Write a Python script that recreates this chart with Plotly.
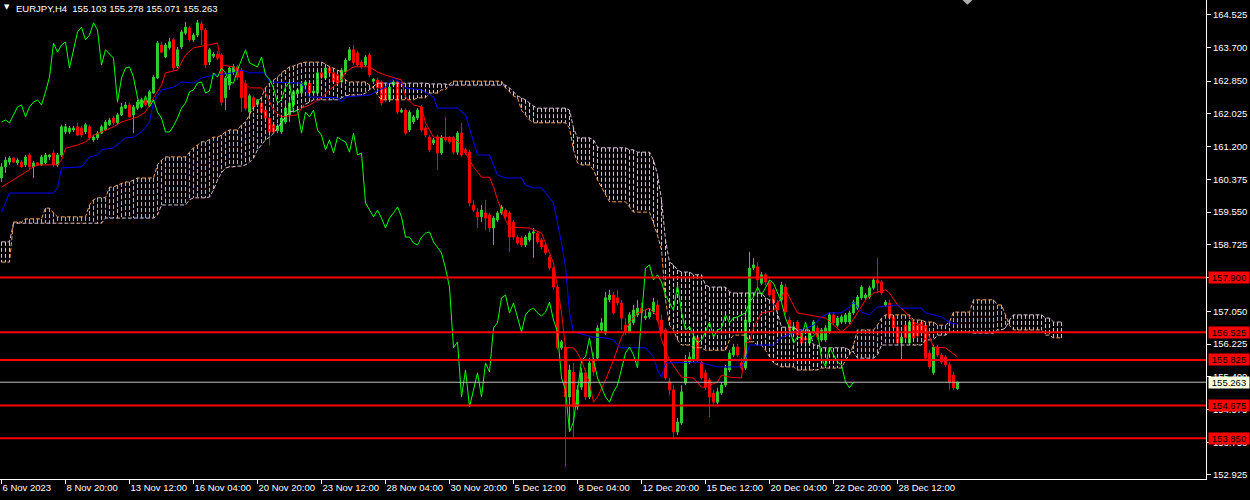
import plotly.graph_objects as go
from datetime import datetime, timedelta

# ---------------- data ----------------
symbol_title = "EURJPY,H4"
first_bar = "2023-11-06 04:00"
holidays = ["2023-12-25", "2024-01-01"]
shift = 26

opens = [160.41,160.69,160.81,160.91,160.79,160.81,160.74,160.99,160.69,160.79,
160.74,160.79,160.94,161.04,160.74,160.99,161.57,161.57,161.62,161.70,
161.67,161.57,161.70,161.37,161.42,161.54,161.62,161.75,161.92,161.80,
162.00,162.17,162.25,162.00,162.17,162.20,162.38,162.30,162.55,162.93,
163.76,163.46,163.69,163.89,163.23,163.71,164.06,164.19,163.89,164.01,
164.29,164.14,163.33,163.48,163.53,163.51,162.43,162.75,163.06,163.21,
163.13,162.78,162.07,162.43,162.27,162.30,162.12,161.92,161.75,161.60,
161.57,161.82,162.00,162.25,162.53,162.55,162.75,162.80,162.55,162.55,
163.06,162.93,163.18,163.06,163.01,162.83,163.08,163.38,163.64,163.56,
163.33,163.26,163.51,162.85,162.88,162.83,162.68,162.38,162.75,162.83,
162.07,162.12,161.62,161.82,161.92,162.20,161.67,161.44,161.29,161.44,
161.04,161.42,161.42,161.42,161.06,161.54,161.12,161.06,159.73,159.55,
159.43,159.53,159.48,159.15,159.35,159.53,159.60,159.53,159.30,158.92,
158.90,158.72,158.85,159.02,159.02,158.85,158.72,158.42,158.14,157.66,
156.13,156.15,154.89,155.52,154.64,155.14,155.50,154.89,155.82,155.87,
156.58,156.50,157.34,157.46,157.39,157.26,156.70,156.53,156.76,156.96,
157.13,156.88,156.91,157.03,157.21,156.83,156.58,155.27,155.07,154.01,
154.24,155.24,155.77,155.82,156.38,155.77,155.50,155.32,154.99,154.76,
154.99,155.19,155.57,155.95,156.15,155.75,155.62,156.78,158.14,158.17,
157.76,157.97,157.79,157.59,157.26,157.34,157.66,156.83,156.58,156.78,
156.53,156.38,156.25,156.53,156.63,156.33,156.33,156.53,156.96,156.70,
156.78,156.78,156.78,157.01,157.13,157.39,157.39,157.41,157.64,157.84,
157.79,157.21,157.26,156.91,156.65,156.25,156.70,156.25,156.78,156.70,
156.78,156.70,156.00,155.50,156.15,155.95,155.90,155.70,155.44,155.103]

highs = [160.79,160.94,160.96,160.94,160.91,160.86,160.99,161.04,160.84,160.81,
160.99,161.04,161.01,161.12,161.04,161.75,161.77,161.72,161.72,161.80,
161.72,161.80,161.75,161.49,161.59,161.75,161.87,161.92,161.97,162.05,
162.30,162.32,162.30,162.25,162.38,162.43,162.43,162.63,163.00,163.86,
163.84,163.81,163.94,163.94,163.71,164.14,164.34,164.24,164.06,164.39,
164.37,164.19,163.69,163.58,163.61,163.56,162.98,163.23,163.28,163.26,
163.18,162.88,162.53,162.48,162.40,162.35,162.17,161.97,161.80,161.77,
161.97,162.30,162.35,162.63,162.68,162.85,162.88,162.85,162.65,163.11,
163.11,163.23,163.23,163.11,163.06,163.18,163.43,163.71,163.76,163.61,
163.38,163.51,163.56,162.93,162.93,162.88,162.73,162.75,162.88,162.88,
162.17,162.17,162.12,162.00,162.17,162.25,161.72,161.49,161.42,161.49,
161.49,161.95,161.47,161.47,161.59,161.80,161.17,161.12,159.86,159.65,
159.73,159.86,159.53,159.45,159.58,159.73,159.65,159.58,159.35,158.97,
158.95,158.97,159.07,159.15,159.07,158.90,158.77,158.47,158.19,157.71,
156.33,156.20,155.70,155.75,155.19,155.62,155.57,155.87,156.02,156.70,
156.88,157.54,157.59,157.54,157.59,157.34,156.88,157.03,157.21,157.34,
157.26,157.08,157.13,157.39,157.34,156.96,156.63,155.37,155.19,154.36,
155.19,155.95,156.02,156.58,156.45,155.82,155.57,155.37,155.07,155.12,
155.27,155.70,156.07,156.23,156.23,155.87,156.96,158.55,158.39,158.29,
158.04,158.02,157.84,157.64,157.34,157.79,157.74,156.91,156.78,156.83,
156.58,156.43,156.58,156.83,156.70,156.63,156.70,157.03,157.03,156.93,
156.96,157.01,157.06,157.34,157.46,157.71,157.51,157.69,157.89,158.39,
157.84,157.34,157.34,156.96,156.70,156.45,156.78,156.83,156.83,156.76,
156.83,156.76,156.07,156.20,156.20,156.00,155.95,155.77,155.52,155.278]

lows = [160.31,160.54,160.74,160.79,160.74,160.66,160.69,160.64,160.41,160.71,
160.71,160.76,160.86,160.69,160.69,160.94,161.52,161.52,161.57,161.47,
161.44,161.52,161.37,161.32,161.37,161.52,161.60,161.72,161.75,161.77,
161.97,162.15,161.92,161.54,162.12,162.17,162.22,162.27,162.53,162.90,
163.56,163.43,163.64,163.13,163.18,163.66,164.01,163.84,163.84,163.96,
163.76,163.18,163.26,163.43,163.38,162.25,162.12,162.63,163.01,162.88,
162.07,162.12,161.99,162.15,162.25,162.02,161.87,161.24,161.52,161.54,
161.52,161.77,161.82,162.20,162.48,162.50,162.70,162.50,162.50,162.50,
162.90,162.88,163.01,162.78,162.75,162.78,163.03,163.36,163.26,163.21,
163.16,163.21,162.95,162.78,162.63,162.25,162.32,162.32,162.70,162.02,
162.05,161.49,161.57,161.77,161.87,161.57,161.44,161.06,161.24,160.61,
160.99,161.32,161.27,161.01,160.99,160.94,160.99,159.70,159.55,159.15,
159.30,159.10,159.05,158.72,159.30,159.48,159.38,158.55,158.85,158.72,
158.67,158.67,158.80,158.40,158.75,158.62,158.47,158.09,157.59,156.08,
156.08,153.13,154.01,153.88,154.56,155.07,154.82,154.84,155.42,155.82,
156.53,156.45,157.28,156.96,157.21,156.58,156.45,156.50,156.70,156.91,
156.96,156.83,156.86,156.98,156.78,156.48,155.32,154.94,153.86,153.93,
154.19,155.19,155.72,155.77,155.77,155.32,155.07,154.39,154.69,154.71,
154.94,155.14,155.52,155.90,155.90,155.57,155.57,156.73,158.09,157.34,
157.71,157.71,157.41,157.18,157.01,157.28,156.98,156.53,156.56,156.38,
156.20,156.07,156.20,156.48,156.33,156.28,156.28,156.48,156.70,156.65,
156.73,156.73,156.73,156.96,157.08,157.34,157.34,157.36,157.59,157.51,
157.46,157.16,156.83,156.58,156.20,155.82,156.33,156.20,156.33,156.38,
156.48,155.82,155.60,155.45,155.90,155.72,155.65,155.07,155.07,155.071]

closes = [160.69,160.86,160.91,160.81,160.86,160.69,160.94,160.69,160.79,160.74,
160.94,160.99,160.99,160.74,160.99,161.70,161.70,161.67,161.67,161.49,
161.49,161.75,161.42,161.44,161.54,161.70,161.82,161.87,161.80,162.00,
162.20,162.25,161.95,162.20,162.32,162.38,162.25,162.58,162.95,163.81,
163.58,163.76,163.84,163.18,163.64,164.09,164.21,163.89,164.01,164.32,
164.14,163.26,163.64,163.53,163.43,162.32,162.93,163.18,163.21,162.95,
162.43,162.17,162.48,162.20,162.38,162.07,161.92,161.57,161.57,161.72,
161.92,162.17,162.30,162.58,162.63,162.80,162.83,162.55,162.60,163.06,
162.95,163.18,163.06,162.83,162.80,163.13,163.38,163.64,163.31,163.26,
163.21,163.46,163.01,162.90,162.68,162.30,162.38,162.70,162.83,162.07,
162.12,161.54,162.07,161.95,162.12,161.62,161.49,161.12,161.37,161.04,
161.44,161.37,161.32,161.06,161.54,160.99,161.04,159.78,159.60,159.43,
159.60,159.40,159.15,159.40,159.53,159.68,159.43,158.92,158.92,158.77,
158.72,158.92,159.02,159.05,158.80,158.67,158.52,158.14,157.66,156.13,
156.28,154.89,155.57,154.64,155.07,155.50,154.89,155.75,155.52,156.63,
156.76,157.39,157.46,157.01,157.26,156.88,156.53,156.96,157.08,157.13,
157.01,156.93,157.03,157.28,156.83,156.53,155.37,155.07,154.01,154.26,
155.02,155.82,155.90,156.38,155.82,155.37,155.14,154.89,154.76,155.02,
155.19,155.62,156.00,156.15,155.95,155.62,156.83,158.14,158.22,157.84,
157.97,157.79,157.46,157.26,157.08,157.71,157.03,156.58,156.66,156.45,
156.25,156.33,156.53,156.78,156.40,156.58,156.63,156.96,156.76,156.88,
156.91,156.96,157.01,157.28,157.41,157.66,157.46,157.64,157.84,157.76,
157.51,157.28,156.88,156.63,156.25,156.40,156.38,156.78,156.38,156.43,
156.53,155.87,155.65,156.15,155.95,155.77,155.70,155.27,155.12,155.263]

# Tenkan-sen (red) and Kijun-sen (blue) read at their turning points: bar number, price
tenkan_bar = [0,3,5,8,9,14,15,16,19,21,23,25,28,30,34,36,38,40,41,44,
46,48,54,55,58,60,62,65,66,68,70,74,75,77,80,82,85,86,88,92,
94,96,98,100,101,103,105,106,108,113,115,116,118,120,122,123,124,125,126,127,
132,135,136,138,139,140,141,143,144,145,147,148,149,151,153,155,157,159,162,164,
165,167,170,173,175,176,179,180,182,185,186,187,188,190,193,196,199,204,206,210,
212,214,216,218,221,222,224,226,228,231,233,236,239]
tenkan_val = [160.18,160.36,160.49,160.69,160.74,160.74,160.86,161.16,161.24,161.32,
161.49,161.57,161.70,161.82,161.95,162.07,162.43,162.75,163.06,163.13,
163.51,163.69,163.81,163.26,163.21,162.88,162.68,162.68,162.55,162.12,
161.95,162.00,162.17,162.25,162.43,162.63,162.88,163.08,163.21,163.21,
163.08,163.00,162.93,162.88,162.45,162.25,162.20,161.80,161.44,161.42,
161.24,161.04,160.69,160.43,160.43,160.18,159.86,159.60,159.35,159.17,
159.15,159.02,158.77,158.27,157.66,157.01,156.13,156.13,156.00,155.82,
155.24,154.76,154.89,155.32,155.82,156.40,156.76,157.01,157.13,156.91,
156.33,155.82,155.39,155.37,155.14,155.14,155.27,155.44,155.39,155.37,
156.25,156.28,156.63,157.01,157.06,157.59,157.01,156.91,156.88,156.53,
156.70,157.01,157.34,157.51,157.59,157.51,157.21,157.03,156.78,156.65,
156.15,156.13,155.90]

kijun_bar = [0,2,13,14,15,20,21,22,24,25,28,31,33,35,37,38,40,43,45,48,
50,53,58,60,62,66,67,75,76,77,84,85,86,92,96,98,100,101,105,107,
108,109,114,116,119,122,123,124,126,130,131,133,135,138,139,140,141,142,143,146,
148,151,153,154,155,161,163,164,165,166,174,177,179,185,186,187,193,195,198,203,
205,207,210,212,213,215,217,219,224,225,230,231,235,237,239]
kijun_val = [159.55,160.03,160.03,160.16,160.66,160.69,160.81,160.94,160.99,161.12,
161.17,161.42,161.44,161.57,161.82,162.32,162.63,162.70,162.83,162.80,
162.93,163.00,163.06,163.13,163.06,163.06,162.83,162.80,162.63,162.45,
162.43,162.32,162.45,162.50,162.70,162.93,162.80,162.68,162.63,162.50,
162.45,162.17,162.17,162.00,160.99,160.99,160.74,160.49,160.41,160.41,
160.23,160.16,160.16,159.78,159.27,158.77,158.17,157.01,156.53,156.45,
156.40,156.38,156.33,156.20,156.13,156.13,155.90,155.57,155.39,155.75,
155.77,155.70,155.65,155.65,155.82,156.20,156.20,156.40,156.50,156.70,
156.91,157.01,157.01,157.16,157.28,157.03,156.96,157.16,157.21,157.13,
157.13,157.01,156.91,156.76,156.73]

# Senkou spans, one value per bar (incl. 26 bars projected ahead)
span_a = [158.29,158.29,158.29,159.30,159.30,159.30,159.38,159.38,159.38,159.38,
159.38,159.65,159.65,159.53,159.43,159.43,159.43,159.43,159.43,159.43,
159.43,159.43,159.73,159.86,159.91,159.91,159.91,160.18,160.18,160.23,
160.28,160.31,160.31,160.36,160.41,160.41,160.41,160.41,160.41,160.74,
160.86,160.94,160.94,160.94,160.94,160.94,160.94,161.06,161.17,161.24,
161.32,161.32,161.37,161.44,161.44,161.49,161.57,161.62,161.62,161.62,
161.75,161.82,162.00,162.20,162.30,162.45,162.68,162.80,162.88,162.95,
163.06,163.13,163.21,163.23,163.28,163.31,163.33,163.33,163.33,163.33,
163.33,163.28,163.21,163.18,163.13,163.08,162.88,162.83,162.83,162.83,
162.83,162.83,162.75,162.68,162.50,162.38,162.38,162.38,162.38,162.38,
162.38,162.38,162.38,162.38,162.43,162.43,162.43,162.55,162.55,162.55,
162.63,162.63,162.78,162.85,162.85,162.85,162.85,162.85,162.85,162.85,
162.85,162.85,162.85,162.85,162.85,162.85,162.68,162.58,162.48,162.43,
162.12,162.00,161.87,161.80,161.80,161.80,161.80,161.80,161.80,161.80,
161.80,161.80,161.67,161.12,160.79,160.74,160.74,160.74,160.61,160.36,
160.18,159.98,159.81,159.81,159.81,159.81,159.81,159.68,159.55,159.55,
159.55,159.55,159.55,159.27,158.97,158.60,157.34,156.70,156.58,156.33,
156.20,156.20,156.20,156.13,156.13,156.13,156.07,156.07,156.07,156.07,
156.07,156.07,156.33,156.45,156.45,156.45,156.45,156.28,156.28,156.20,
156.20,156.07,155.90,155.75,155.70,155.65,155.65,155.65,155.65,155.57,
155.57,155.57,155.57,155.57,155.57,155.62,155.62,155.62,155.62,155.62,
155.62,155.82,155.95,156.20,156.58,156.58,156.58,156.58,156.58,156.70,
156.88,156.96,156.96,156.96,156.96,156.96,156.96,156.96,156.83,156.83,
156.83,156.78,156.78,156.78,156.70,156.70,156.70,156.78,157.03,157.03,
157.03,157.03,157.03,157.34,157.34,157.34,157.34,157.34,157.34,157.21,
157.21,156.96,156.70,156.58,156.58,156.58,156.58,156.58,156.58,156.58,
156.58,156.45,156.45,156.38,156.38,156.38]

span_b = [158.80,158.80,158.80,159.27,159.27,159.27,159.27,159.27,159.27,159.27,
159.27,159.27,159.27,159.27,159.27,159.27,159.27,159.27,159.27,159.27,
159.27,159.27,159.27,159.27,159.27,159.27,159.40,159.40,159.40,159.40,
159.40,159.40,159.40,159.40,159.40,159.40,159.40,159.40,159.40,159.48,
159.73,159.73,159.73,159.73,159.73,159.73,159.73,159.86,159.91,159.91,
159.91,159.91,159.93,160.11,160.36,160.54,160.66,160.69,160.69,160.71,
160.71,160.74,160.81,160.91,161.12,161.24,161.37,161.44,161.54,161.67,
161.82,161.95,162.07,162.10,162.12,162.17,162.27,162.32,162.38,162.38,
162.38,162.38,162.38,162.38,162.38,162.43,162.48,162.50,162.50,162.50,
162.50,162.55,162.63,162.73,162.80,162.80,162.80,162.80,162.80,162.80,
162.80,162.80,162.80,162.80,162.80,162.80,162.80,162.78,162.78,162.78,
162.78,162.78,162.75,162.75,162.75,162.75,162.75,162.75,162.75,162.75,
162.75,162.75,162.75,162.75,162.75,162.75,162.75,162.68,162.58,162.48,
162.43,162.38,162.30,162.22,162.17,162.17,162.17,162.17,162.17,162.17,
162.17,162.17,162.12,161.67,161.42,161.42,161.42,161.42,161.37,161.19,
161.17,161.17,161.17,161.17,161.17,161.17,161.17,161.12,161.12,161.06,
161.06,161.06,161.06,160.86,160.49,159.86,158.85,158.29,158.22,158.09,
158.04,158.04,158.04,157.97,157.97,157.97,157.71,157.66,157.66,157.66,
157.66,157.66,157.54,157.51,157.51,157.51,157.51,157.51,157.51,157.51,
157.51,157.39,157.34,157.34,156.96,156.65,156.65,156.65,156.65,156.58,
156.58,156.58,156.58,156.20,156.20,156.13,156.13,156.13,156.13,156.13,
156.13,156.13,156.07,156.02,155.87,155.87,155.87,155.87,155.87,155.95,
156.20,156.20,156.20,156.20,156.20,156.20,156.20,156.20,156.20,156.20,
156.20,156.33,156.33,156.33,156.45,156.45,156.45,156.53,156.53,156.53,
156.53,156.53,156.53,156.50,156.50,156.50,156.50,156.50,156.50,156.58,
156.58,156.63,156.83,156.96,156.96,156.96,156.96,156.96,156.96,156.96,
156.96,156.88,156.88,156.78,156.78,156.78]

levels = [157.900, 156.525, 155.825, 154.675, 153.850]
ytick_vals = [164.525, 163.700, 162.850, 162.025, 161.200, 160.375, 159.550, 158.725,
              157.900, 157.050, 156.225, 155.400, 154.575, 153.750, 152.925]
tick_times = ["2023-11-06 04:00", "2023-11-08 20:00", "2023-11-13 12:00", "2023-11-16 04:00",
              "2023-11-20 20:00", "2023-11-23 12:00", "2023-11-28 04:00", "2023-11-30 20:00",
              "2023-12-05 12:00", "2023-12-08 04:00", "2023-12-12 20:00", "2023-12-15 12:00",
              "2023-12-20 04:00", "2023-12-22 20:00", "2023-12-28 12:00"]
tick_labels = ["6 Nov 2023", "8 Nov 20:00", "13 Nov 12:00", "16 Nov 04:00", "20 Nov 20:00",
               "23 Nov 12:00", "28 Nov 04:00", "30 Nov 20:00", "5 Dec 12:00", "8 Dec 04:00",
               "12 Dec 20:00", "15 Dec 12:00", "20 Dec 04:00", "22 Dec 20:00", "28 Dec 12:00"]

# ---------------- styling ----------------
BULL = "#32CD32"
BEAR = "#FF0000"
CHIKOU = "#00FF00"
TENKAN = "#FF0000"
KIJUN = "#0000FF"
SANDY = "#F4A460"
THISTLE = "#D8BFD8"
FG = "#FFFFFF"
FONT = "Liberation Sans, Arial, sans-serif"
FS = 9.5

# trading calendar (H4 bars, weekends and holidays skipped)
fmt = "%Y-%m-%d %H:%M"
hol = {datetime.strptime(h, "%Y-%m-%d").date() for h in holidays}
t = datetime.strptime(first_bar, fmt)
times = []
while len(times) < len(closes):
    if t.weekday() < 5 and t.date() not in hol:
        times.append(t)
    t += timedelta(hours=4)
bars = list(range(len(closes)))
tick_pos = [times.index(datetime.strptime(s, fmt)) for s in tick_times]

fig = go.Figure()

# Kumo hatch: one dotted vertical line per bar, coloured by which span is on top
cloud_bars = list(range(len(span_a)))
up_x, up_y, dn_x, dn_y = [], [], [], []
for i in cloud_bars:
    hi, lo = max(span_a[i], span_b[i]), min(span_a[i], span_b[i])
    if span_a[i] >= span_b[i]:
        up_x += [i, i, None]
        up_y += [hi, lo, None]
    else:
        dn_x += [i, i, None]
        dn_y += [hi, lo, None]
fig.add_trace(go.Scatter(x=dn_x, y=dn_y, mode="lines",
                         line=dict(color=THISTLE, width=1, dash="4px,2px"),
                         hoverinfo="skip"))
fig.add_trace(go.Scatter(x=up_x, y=up_y, mode="lines",
                         line=dict(color=SANDY, width=1, dash="4px,2px"),
                         hoverinfo="skip"))
fig.add_trace(go.Scatter(x=cloud_bars, y=span_b, mode="lines",
                         line=dict(color=THISTLE, width=1, dash="4px,2px"), hoverinfo="skip"))
fig.add_trace(go.Scatter(x=cloud_bars, y=span_a, mode="lines",
                         line=dict(color=SANDY, width=1, dash="4px,2px"), hoverinfo="skip"))

# candles
fig.add_trace(go.Candlestick(
    x=bars, open=opens, high=highs, low=lows, close=closes,
    increasing=dict(line=dict(color=BULL, width=1), fillcolor=BULL),
    decreasing=dict(line=dict(color=BEAR, width=1), fillcolor=BEAR),
    whiskerwidth=0, hoverinfo="skip"))

# Ichimoku lines
fig.add_trace(go.Scatter(x=tenkan_bar, y=tenkan_val, mode="lines",
                         line=dict(color=TENKAN, width=1), hoverinfo="skip"))
fig.add_trace(go.Scatter(x=kijun_bar, y=kijun_val, mode="lines",
                         line=dict(color=KIJUN, width=1), hoverinfo="skip"))
fig.add_trace(go.Scatter(x=bars[:-shift], y=closes[shift:], mode="lines",
                         line=dict(color=CHIKOU, width=1), hoverinfo="skip"))

# horizontal levels
shapes = []
for lv in levels:
    shapes.append(dict(type="line", xref="paper", x0=0, x1=1, yref="y", y0=lv, y1=lv,
                       line=dict(color="#FF0000", width=2)))
shapes.append(dict(type="line", xref="paper", x0=0, x1=1, yref="y", y0=closes[-1], y1=closes[-1],
                   line=dict(color="#C0C0C0", width=1)))
# chart-shift marker at top
shapes.append(dict(type="path", xref="x", yref="paper",
                   path=f"M {len(closes)+0.25},1 L {len(closes)+2.75},1 L {len(closes)+1.5},0.99 Z",
                   fillcolor="#B0B0B0", line=dict(width=0)))

annotations = []
for lv in levels:
    annotations.append(dict(xref="paper", x=1, xshift=2, xanchor="left", yref="y", y=lv,
                            yanchor="middle", text=f"{lv:.3f}", showarrow=False,
                            bgcolor="#FF0000", width=38, height=9, borderpad=1,
                            font=dict(family=FONT, size=FS, color="#000000")))
annotations.append(dict(xref="paper", x=1, xshift=2, xanchor="left", yref="y", y=closes[-1],
                        yanchor="middle", text=f"{closes[-1]:.3f}", showarrow=False,
                        bgcolor="#FFFFE0", width=38, height=9, borderpad=1,
                        font=dict(family=FONT, size=FS, color="#000000")))
title = (symbol_title + "\u00a0\u00a0" +
         f"{opens[-1]:.3f} {highs[-1]:.3f} {lows[-1]:.3f} {closes[-1]:.3f}")
annotations.append(dict(xref="paper", x=0, xshift=14, xanchor="left", yref="paper", y=1,
                        yshift=-1, yanchor="top", text=title, showarrow=False,
                        font=dict(family=FONT, size=FS, color=FG)))
annotations.append(dict(xref="paper", x=0, xshift=2, xanchor="left", yref="paper", y=1,
                        yshift=-1, yanchor="top", text="\u25BC", showarrow=False,
                        font=dict(family="DejaVu Sans", size=7, color=FG)))

fig.update_layout(
    width=1250, height=500,
    margin=dict(l=0, r=44, t=0, b=21, autoexpand=False),
    paper_bgcolor="#000000", plot_bgcolor="#000000",
    showlegend=False,
    shapes=shapes, annotations=annotations,
    xaxis=dict(range=[-0.375, 301.125], showgrid=False, zeroline=False, automargin=False,
               showline=True, linecolor=FG, linewidth=1,
               tickmode="array", tickvals=tick_pos, ticktext=tick_labels, tickangle=0,
               ticks="outside", ticklen=4, tickcolor=FG, tickwidth=1,
               ticklabelposition="outside right",
               tickfont=dict(family=FONT, size=FS, color=FG),
               rangeslider=dict(visible=False), fixedrange=True),
    yaxis=dict(range=[152.824, 164.895], side="right", showgrid=False, zeroline=False,
               automargin=False,
               showline=True, linecolor=FG, linewidth=1,
               tickmode="array", tickvals=ytick_vals,
               ticktext=[f"{v:.3f}" for v in ytick_vals],
               ticks="outside", ticklen=4, tickcolor=FG, tickwidth=1,
               tickfont=dict(family=FONT, size=FS, color=FG), fixedrange=True),
)

fig.write_html("out.html", config={"displayModeBar": False},
               post_script="document.body.style.margin='0';document.body.style.background='#000';")
